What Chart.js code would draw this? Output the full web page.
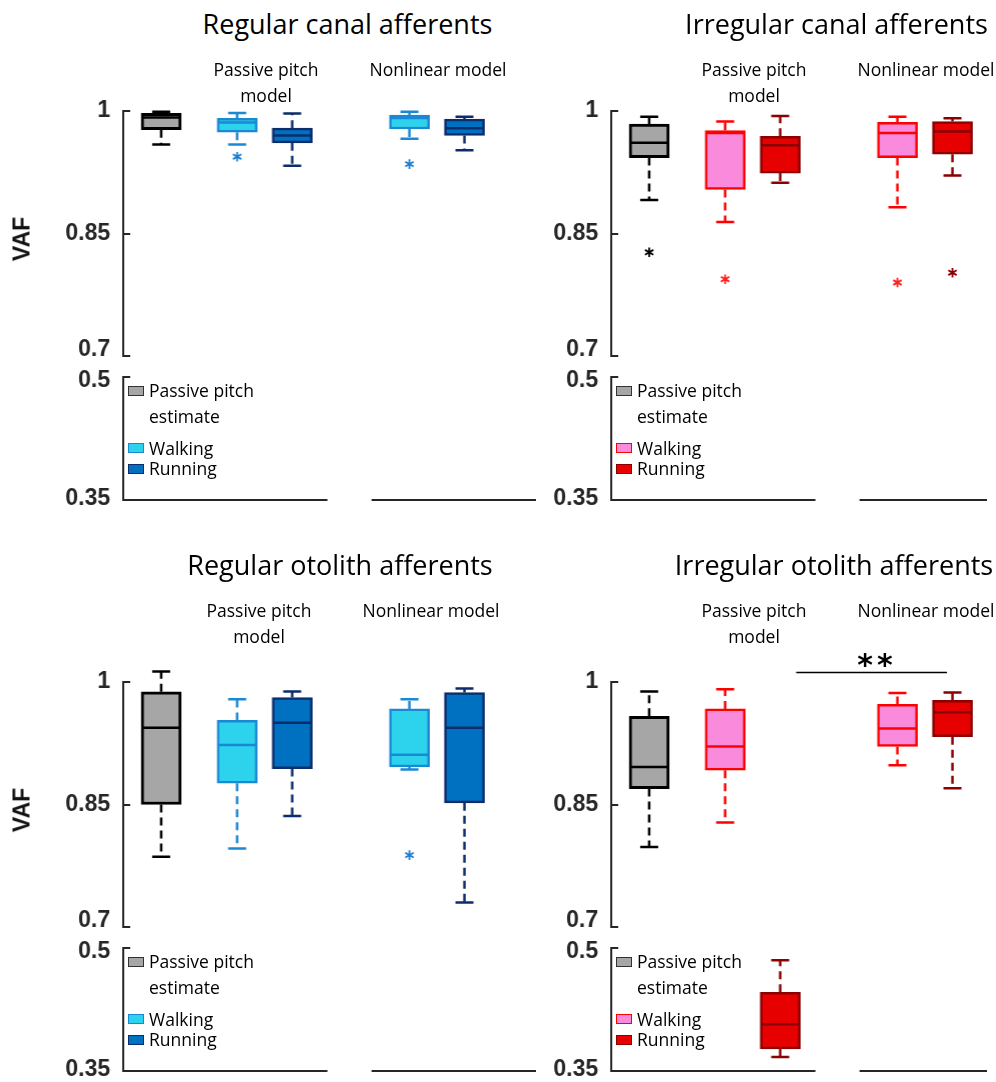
<!DOCTYPE html>
<html>
<head>
<meta charset="utf-8">
<script src="https://cdn.jsdelivr.net/npm/chart.js@4.4.1/dist/chart.umd.min.js"></script>
<style>
  html, body { margin: 0; padding: 0; background: #fff; width: 996px; height: 1082px; overflow: hidden; }
  #fig { position: relative; width: 996px; height: 1082px; overflow: hidden; font-family: 'Open Sans', Lato, sans-serif; color: #000; }
  .lbl { position: absolute; left: 0; top: 0; white-space: nowrap; }
  .lbl .base { display: inline-block; width: 0; height: 0; vertical-align: baseline; }
  .title { font-size: 27px; }
  .group { font-size: 17.5px; }
  .leg { font-size: 17.5px; }
  .vaf { position: absolute; font-family: 'Liberation Sans', Arial, sans-serif; font-weight: bold; font-size: 23px; color: #111;
         transform: translate(-50%, -50%) rotate(-90deg); white-space: nowrap; line-height: 1; }
  .sig { font-family: 'DejaVu Sans', sans-serif; font-weight: bold; font-size: 30px; letter-spacing: 4px; }
  .swatch { position: absolute; width: 14px; height: 8px; border: 1px solid #333; }
  .clip { position: absolute; overflow: hidden; }
  canvas { position: absolute; }
</style>
</head>
<body>
<div id="fig"></div>
<script>
// ---- values: five-number summaries per box, [min, q1, median, q3, max] ----
const BOX_NAMES = ['Passive pitch estimate', 'Walking (passive pitch model)', 'Running (passive pitch model)',
                   'Walking (nonlinear model)', 'Running (nonlinear model)'];

const regularCanal = [
  [0.959, 0.977, 0.992, 0.997, 0.999],
  [0.959, 0.974, 0.986, 0.991, 0.9975],
  [0.933, 0.961, 0.970, 0.979, 0.997],
  [0.966, 0.978, 0.9915, 0.995, 0.999],
  [0.952, 0.970, 0.979, 0.990, 0.993]
];
const regularCanalOutliers = [[], [0.944], [], [0.935], []];

const irregularCanal = [
  [0.891, 0.943, 0.961, 0.984, 0.993],
  [0.864, 0.904, 0.973, 0.976, 0.987],
  [0.912, 0.924, 0.958, 0.969, 0.994],
  [0.882, 0.943, 0.973, 0.986, 0.993],
  [0.921, 0.947, 0.975, 0.987, 0.991]
];
const irregularCanalOutliers = [[0.827], [0.794], [], [0.790], [0.802]];

const regularOtolith = [
  [0.786, 0.850, 0.944, 0.988, 1.013],
  [0.796, 0.876, 0.923, 0.953, 0.979],
  [0.836, 0.894, 0.950, 0.981, 0.9885],
  [0.893, 0.896, 0.911, 0.967, 0.979],
  [0.730, 0.852, 0.944, 0.987, 0.992]
];
const regularOtolithOutliers = [[], [], [], [0.788], []];

const irregularOtolith = [
  [0.798, 0.8695, 0.896, 0.958, 0.9885],
  [0.828, 0.892, 0.921, 0.967, 0.991],
  [0.367, 0.377, 0.407, 0.446, 0.485],
  [0.898, 0.921, 0.943, 0.9726, 0.9865],
  [0.870, 0.933, 0.963, 0.9775, 0.987]
];
const irregularOtolithOutliers = [[], [], [], [], []];

const UPPER_TICKS = [0.7, 0.85, 1];
const LOWER_TICKS = [0.35, 0.5];
const PANEL_TITLES = ['Regular canal afferents', 'Irregular canal afferents',
                      'Regular otolith afferents', 'Irregular otolith afferents'];
const GROUP_LABELS = [['Passive pitch', 'model'], ['Nonlinear model']];
const LEGEND_LABELS = [['Passive pitch', 'estimate'], ['Walking'], ['Running']];
const Y_LABEL = 'VAF';
const SIG_LABEL = '**';
const SIG_LEVEL = 1.012;     // height of the comparison bar in the irregular otolith panel

// ---- layout & style ----
const SLOT_X = [0.69, 2.07, 3.07, 5.2, 6.2];      // box centres along the x scale
const SLOT_KIND = ['estimate', 'walking', 'running', 'walking', 'running'];
const X_MIN = 0, X_MAX = 7.5;
const AXIS_SEGMENTS = [[0, 3.71], [4.53, 7.5]];
const SIG_SPAN = [3.36, 6.10];
const AXIS_OFFSET = 123;          // left edge of the plotting area inside each panel
const PLOT_W = 412.5;
const AXIS_COLOR = '#262626';
// vertical nudge (px) of the tick labels at the axis break, keeps them apart
const TICK_LABEL_NUDGE = { '0.7': -6, '0.5': 4, '0.35': -1 };

const PALETTES = {
  blue: {
    estimate: { fill: '#a6a6a6', line: '#000000', star: '#000000' },
    walking:  { fill: '#2dd3ec', line: '#1b88d4', star: '#1e7fd0' },
    running:  { fill: '#0070c0', line: '#0d2c6c', star: '#0d2c6c' }
  },
  red: {
    estimate: { fill: '#a6a6a6', line: '#000000', star: '#000000' },
    walking:  { fill: '#fa8adc', line: '#ff0000', star: '#ff2020' },
    running:  { fill: '#e60000', line: '#8b0000', star: '#8b0000' }
  }
};

const PANELS = [
  { title: PANEL_TITLES[0], boxes: regularCanal, outliers: regularCanalOutliers, pal: 'blue',
    ox: 0, up: [111, 356], low: [377, 500], textDy: 0, textDx: 0, titleX: 347.5 },
  { title: PANEL_TITLES[1], boxes: irregularCanal, outliers: irregularCanalOutliers, pal: 'red',
    ox: 488, up: [111, 356], low: [377, 500], textDy: 0, textDx: 0, titleX: 836.5, clipRight: 987 },
  { title: PANEL_TITLES[2], boxes: regularOtolith, outliers: regularOtolithOutliers, pal: 'blue',
    ox: 0, up: [682, 927], low: [948, 1071], textDy: 541, textDx: -7, titleX: 340 },
  { title: PANEL_TITLES[3], boxes: irregularOtolith, outliers: irregularOtolithOutliers, pal: 'red',
    ox: 488, up: [682, 927], low: [948, 1071], textDy: 541, textDx: 0, titleX: 834, clipRight: 987, sig: true }
];

const FIG = document.getElementById('fig');

function label(text, cls, x, baseline, align, parent) {
  const d = document.createElement('div');
  d.className = 'lbl ' + cls;
  d.appendChild(document.createTextNode(text));
  const mark = document.createElement('span');
  mark.className = 'base';
  d.appendChild(mark);
  (parent || FIG).appendChild(d);
  const r = d.getBoundingClientRect();
  const m = mark.getBoundingClientRect();
  const w = r.width;
  const left = align === 'center' ? x - w / 2 : align === 'right' ? x - w : x;
  d.style.left = left + 'px';
  d.style.top = (baseline - (m.bottom - r.top)) + 'px';
  return d;
}

// draws whiskers, medians, caps, outliers, inward ticks and the broken x axis
function boxPlugin(info) {
  return {
    id: 'boxDetails',
    afterLayout(chart) {
      const y = chart.scales.y;
      y.getLabelItems(chart.chartArea).forEach(item => {
        const d = TICK_LABEL_NUDGE[item.label];
        if (d) item.options.translation[1] += d;
      });
    },
    afterDatasetsDraw(chart) {
      const { ctx, chartArea } = chart;
      const x = chart.scales.x, y = chart.scales.y;
      const pal = PALETTES[info.pal];
      ctx.save();
      ctx.lineCap = 'butt';

      // inward tick marks
      ctx.strokeStyle = AXIS_COLOR;
      ctx.lineWidth = 2;
      info.ticks.forEach(v => {
        const py = Math.round(y.getPixelForValue(v));
        ctx.beginPath();
        ctx.moveTo(chartArea.left, py);
        ctx.lineTo(chartArea.left + 7, py);
        ctx.stroke();
      });

      // broken x axis under the lower range
      if (info.lower) {
        const py = Math.round(y.getPixelForValue(y.min));
        AXIS_SEGMENTS.forEach(([a, b]) => {
          ctx.beginPath();
          ctx.moveTo(x.getPixelForValue(a) - 1, py);
          ctx.lineTo(x.getPixelForValue(b), py);
          ctx.stroke();
        });
      }

      info.items.forEach(({ i, s }) => {
        const c = pal[SLOT_KIND[i]];
        const cx = x.getPixelForValue(SLOT_X[i]);
        const [mn, q1, md, q3, mx] = s.map(v => y.getPixelForValue(v));
        ctx.strokeStyle = c.line;
        // whiskers
        ctx.lineWidth = 2.5;
        ctx.setLineDash([8, 5]);
        ctx.beginPath();
        ctx.moveTo(cx, q3); ctx.lineTo(cx, mx);
        ctx.moveTo(cx, q1); ctx.lineTo(cx, mn);
        ctx.stroke();
        ctx.setLineDash([]);
        // caps
        ctx.beginPath();
        ctx.moveTo(cx - 9, mx); ctx.lineTo(cx + 9, mx);
        ctx.moveTo(cx - 9, mn); ctx.lineTo(cx + 9, mn);
        ctx.stroke();
        // median
        ctx.lineWidth = 2.5;
        ctx.beginPath();
        ctx.moveTo(cx - 19, md); ctx.lineTo(cx + 19, md);
        ctx.stroke();
      });

      // outliers drawn as asterisks
      info.outs.forEach(({ i, v }) => {
        const c = pal[SLOT_KIND[i]];
        const cx = x.getPixelForValue(SLOT_X[i]);
        const cy = y.getPixelForValue(v);
        ctx.strokeStyle = c.star;
        ctx.lineWidth = 1.8;
        ctx.beginPath();
        [90, 30, 150].forEach(a => {
          const r = 4.8, t = a * Math.PI / 180;
          ctx.moveTo(cx - r * Math.cos(t), cy - r * Math.sin(t));
          ctx.lineTo(cx + r * Math.cos(t), cy + r * Math.sin(t));
        });
        ctx.stroke();
      });

      // comparison bar
      if (info.sig) {
        const py = Math.round(y.getPixelForValue(SIG_LEVEL)) + 0.5;
        ctx.strokeStyle = '#000';
        ctx.lineWidth = 1.6;
        ctx.beginPath();
        ctx.moveTo(x.getPixelForValue(SIG_SPAN[0]), py);
        ctx.lineTo(x.getPixelForValue(SIG_SPAN[1]), py);
        ctx.stroke();
      }
      ctx.restore();
    }
  };
}

function yScale(min, max, ticks) {
  return {
    type: 'linear', min, max,
    afterFit: s => { s.width = AXIS_OFFSET; s.paddingTop = 0; s.paddingBottom = 0; },
    afterBuildTicks: s => { s.ticks = ticks.map(v => ({ value: v })); },
    grid: { display: false, drawTicks: false },
    border: { display: true, color: AXIS_COLOR, width: 2 },
    ticks: {
      color: AXIS_COLOR, padding: 13,
      font: { family: "'Liberation Sans', Arial, sans-serif", size: 23, weight: 'bold' },
      callback: v => String(v)
    }
  };
}

function makeChart(parent, left, top, range, ticks, padTop, padBottom, panel, lower) {
  const h = (range[1] - range[0]) + padTop + padBottom;
  const w = AXIS_OFFSET + PLOT_W + 12;
  const cv = document.createElement('canvas');
  cv.width = w; cv.height = h;
  cv.style.width = w + 'px'; cv.style.height = h + 'px';
  cv.style.left = left + 'px'; cv.style.top = top + 'px';
  parent.appendChild(cv);

  const [yMin, yMax] = lower ? [LOWER_TICKS[0], LOWER_TICKS[1]] : [UPPER_TICKS[0], UPPER_TICKS[2]];
  const items = [], outs = [];
  panel.boxes.forEach((s, i) => {
    const inLower = s[2] < 0.6;
    if (inLower === lower) items.push({ i, s });
  });
  panel.outliers.forEach((arr, i) => arr.forEach(v => {
    if ((v < 0.6) === lower) outs.push({ i, v });
  }));
  const pal = PALETTES[panel.pal];

  new Chart(cv, {
    type: 'bar',
    data: {
      datasets: [{
        label: Y_LABEL,
        data: items.map(({ i, s }) => ({ x: SLOT_X[i], y: [s[1], s[3]] })),
        backgroundColor: items.map(({ i }) => pal[SLOT_KIND[i]].fill),
        borderColor: items.map(({ i }) => pal[SLOT_KIND[i]].line),
        borderWidth: items.map(({ i }) => SLOT_KIND[i] === 'estimate' ? 3 : 2.5),
        borderSkipped: false,
        barThickness: 40,
        clip: false
      }]
    },
    options: {
      responsive: false,
      animation: false,
      devicePixelRatio: 1,
      layout: { padding: { left: 0, right: 12, top: padTop, bottom: padBottom } },
      plugins: { legend: { display: false }, tooltip: { enabled: false }, title: { display: false } },
      scales: {
        x: { type: 'linear', min: X_MIN, max: X_MAX, offset: false, display: false },
        y: yScale(yMin, yMax, ticks)
      }
    },
    plugins: [boxPlugin({ pal: panel.pal, items, outs, ticks, lower, sig: !!panel.sig && !lower })]
  });
}

PANELS.forEach((p, k) => {
  let host = FIG, offX = p.ox;
  if (p.clipRight) {
    host = document.createElement('div');
    host.className = 'clip';
    host.style.left = p.ox + 'px'; host.style.top = '0px';
    host.style.width = (p.clipRight - p.ox) + 'px'; host.style.height = '1082px';
    FIG.appendChild(host);
    offX = 0;
  }
  const upPadTop = 40, upPadBottom = 16, lowPad = 16;
  makeChart(host, offX, p.up[0] - upPadTop, p.up, UPPER_TICKS, upPadTop, upPadBottom, p, false);
  makeChart(host, offX, p.low[0] - lowPad, p.low, LOWER_TICKS, lowPad, lowPad, p, true);

  const ax = p.ox + AXIS_OFFSET;   // pixel x of the y axis
  const tdx = p.textDx, tdy = p.textDy;

  // titles and group headings
  label(p.title, 'title', p.titleX, 34.3 + tdy, 'center');
  label(GROUP_LABELS[0][0], 'group', ax + 143 + tdx, 76 + tdy, 'center');
  label(GROUP_LABELS[0][1], 'group', ax + 143 + tdx, 101.7 + tdy, 'center');
  label(GROUP_LABELS[1][0], 'group', ax + 315 + tdx, 76 + tdy, 'center');

  // y-axis name on the left column
  if (p.ox === 0) {
    const v = document.createElement('div');
    v.className = 'vaf';
    v.textContent = Y_LABEL;
    v.style.left = '22px';
    v.style.top = (p.up[0] + 128) + 'px';
    FIG.appendChild(v);
  }

  // legend inside the lower range
  const pal = PALETTES[p.pal];
  const l0 = p.low[0];
  const rows = [
    { kind: 'estimate', sw: 9, base: [19.5, 45.5] },
    { kind: 'walking', sw: 66, base: [78] },
    { kind: 'running', sw: 87, base: [98] }
  ];
  rows.forEach((r, j) => {
    const sw = document.createElement('div');
    sw.className = 'swatch';
    sw.style.left = (ax + 5) + 'px';
    sw.style.top = (l0 + r.sw) + 'px';
    sw.style.background = pal[r.kind].fill;
    sw.style.borderColor = r.kind === 'estimate' ? '#333' : pal[r.kind].line;
    FIG.appendChild(sw);
    LEGEND_LABELS[j].forEach((t, q) => label(t, 'leg', ax + 26, l0 + r.base[q], 'left'));
  });

  if (p.sig) {
    label(SIG_LABEL, 'sig', 877, 675, 'center');
  }
});
</script>
</body>
</html>
